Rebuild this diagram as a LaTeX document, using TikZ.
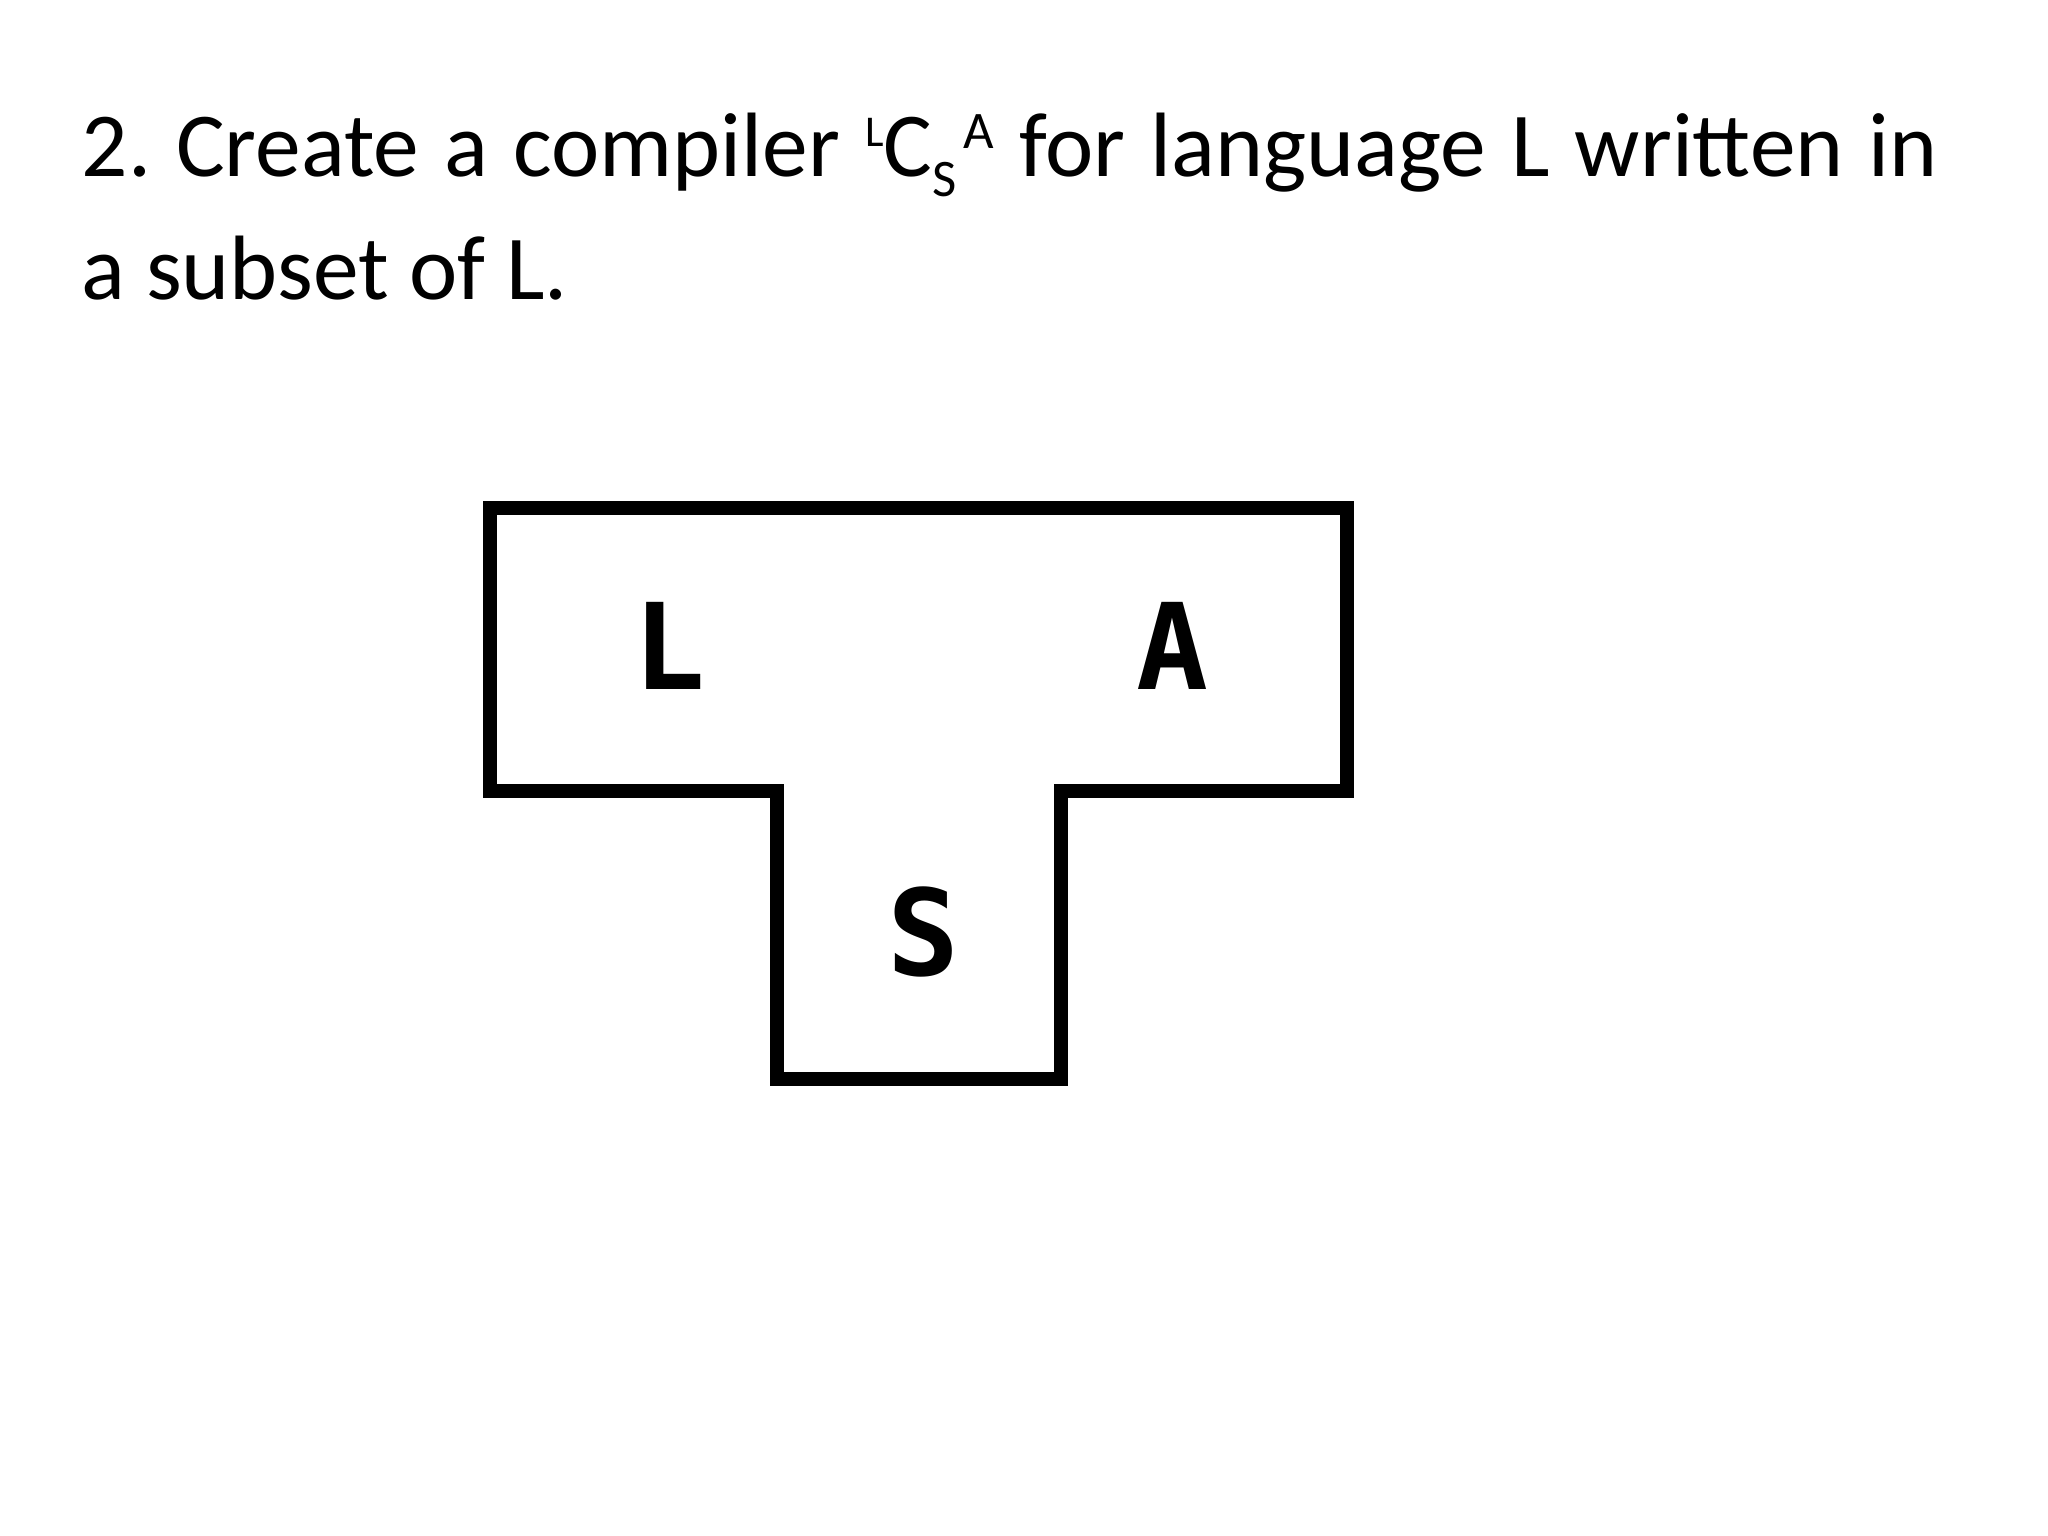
\documentclass[tikz,border=0pt]{standalone}
\usepackage{fontspec}
\setmainfont{Carlito}
\newfontfamily\letterfont{DejaVu Sans Mono}
\newcommand{\supL}{\raisebox{0.32em}{\fontsize{12.5pt}{14pt}\selectfont L}}
\newcommand{\subS}{\raisebox{-0.22em}{\fontsize{15pt}{17pt}\selectfont S}}
\newcommand{\supA}{\raisebox{0.30em}{\fontsize{15pt}{17pt}\selectfont A}}
\tikzset{
  title/.style={anchor=base west, inner sep=0pt, font=\fontsize{26pt}{32pt}\selectfont},
  tletter/.style={inner sep=0pt, font=\letterfont\bfseries\fontsize{34pt}{40pt}\selectfont}
}
\begin{document}
\frenchspacing
\begin{tikzpicture}[x=0.01cm,y=-0.01cm]
\useasboundingbox (0,0) rectangle (2048,1536);
\node[title] (line1) at (81,176) {\makebox[18.55cm][s]{2. Create a compiler \supL C\subS\kern0.08em\supA{} for language L written in}};
\node[title] (line2) at (81,299) {a subset of L.};
\draw[black, line width=0.14cm, line join=miter]
  (490,508) -- (1347,508) -- (1347,791) -- (1061,791) -- (1061,1079)
  -- (777,1079) -- (777,791) -- (490,791) -- cycle;
\node[tletter] (L) at (669,646) {L};
\node[tletter] (A) at (1172,646) {A};
\node[tletter] (S) at (923,932) {S};
\end{tikzpicture}
\end{document}
